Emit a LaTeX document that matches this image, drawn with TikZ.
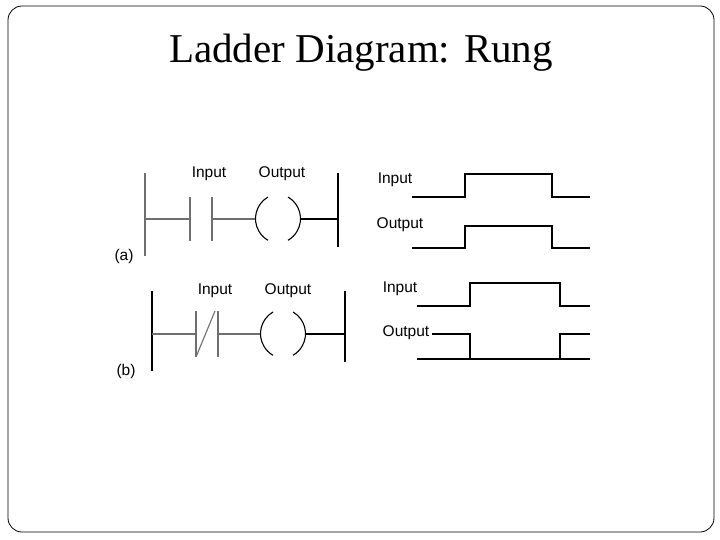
\documentclass[tikz,border=0pt]{standalone}
\usepackage{fontspec}
\setmainfont{Liberation Serif}
\setsansfont{Liberation Sans}
\usetikzlibrary{positioning}
\definecolor{railgray}{RGB}{110,110,110}

\begin{document}
\begin{tikzpicture}[
    x=1pt, y=-1pt,
    lbl/.style={font=\sffamily\fontsize{15.5}{15.5}\selectfont, inner sep=0pt},
    rail/.style={line width=1.6pt},
    wire/.style={line width=1.1pt},
    sig/.style={line width=1.3pt}
]
    \useasboundingbox (0,0) rectangle (720,540);
    \draw[line width=0.8pt, rounded corners=14pt] (8,6) rectangle (714,532);
    \node[font=\fontsize{41}{41}\selectfont] (title) at (361,53) {Ladder Diagram: Rung};

    % rung (a)
    \coordinate (aL1) at (145,173); \coordinate (aL2) at (145,256);
    \coordinate (aR1) at (338,173); \coordinate (aR2) at (338,247);
    \draw[rail, railgray] (aL1) -- (aL2);
    \draw[rail] (aR1) -- (aR2);
    \coordinate (ac1) at (190,219); \coordinate (ac2) at (212,219);
    \draw[wire, railgray] (145,219) -- (ac1);
    \draw[wire, railgray] (190,197) -- (190,241) (212,197) -- (212,241);
    \draw[wire, railgray] (ac2) -- (256,219);
    \draw[wire] (268,197) arc[start angle=240, end angle=120, radius=25];
    \draw[wire] (288,197) arc[start angle=-60, end angle=60, radius=25];
    \draw[wire] (300,219) -- (338,219);
    \node[lbl] (ain) at (209,174) {Input};
    \node[lbl] (aout) at (282,174) {Output};
    \node[lbl] (alab) at (124,256) {(a)};

    % timing (a)
    \node[lbl] (tain) at (395,180) {Input};
    \draw[sig] (412,197) -- (465,197) -- (465,174) -- (552,174) -- (552,197) -- (590,197);
    \node[lbl] (taout) at (400,225) {Output};
    \draw[sig] (412,248) -- (465,248) -- (465,226) -- (552,226) -- (552,248) -- (590,248);

    % rung (b)
    \coordinate (bL1) at (152,291); \coordinate (bL2) at (152,371);
    \coordinate (bR1) at (345,291); \coordinate (bR2) at (345,362);
    \draw[rail] (bL1) -- (bL2);
    \draw[rail] (bR1) -- (bR2);
    \draw[wire, railgray] (152,334) -- (196,334);
    \draw[wire, railgray] (196,311) -- (196,357) (218,311) -- (218,357);
    \draw[wire, railgray] (196,357) -- (215,311);
    \draw[wire, railgray] (218,334) -- (261,334);
    \draw[wire] (273,312) arc[start angle=240, end angle=120, radius=25];
    \draw[wire] (293,312) arc[start angle=-60, end angle=60, radius=25];
    \draw[wire] (305,334) -- (345,334);
    \node[lbl] (bin) at (215,291) {Input};
    \node[lbl] (bout) at (288,291) {Output};
    \node[lbl] (blab) at (126,371) {(b)};

    % timing (b)
    \node[lbl] (tbin) at (400,289) {Input};
    \draw[sig] (417,306) -- (470,306) -- (470,283) -- (560,283) -- (560,306) -- (590,306);
    \node[lbl] (tbout) at (406,333) {Output};
    \draw[sig] (432,334) -- (470,334) -- (470,359) -- (560,359) -- (560,334) -- (590,334);
    \draw[sig] (417,359) -- (590,359);
\end{tikzpicture}
\end{document}
